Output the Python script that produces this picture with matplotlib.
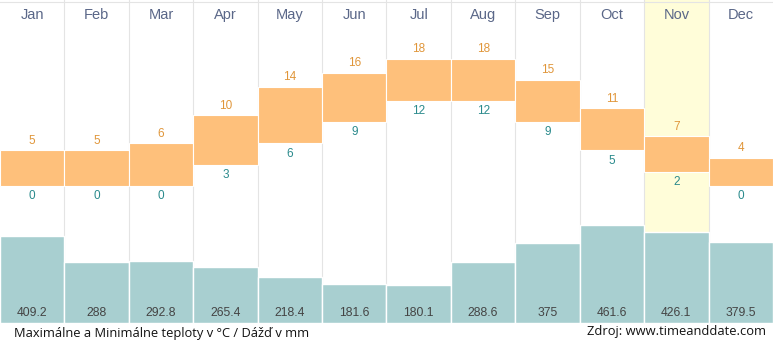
import matplotlib
matplotlib.use("Agg")
import matplotlib.pyplot as plt
import numpy as np

months = ["Jan", "Feb", "Mar", "Apr", "May", "Jun", "Jul", "Aug", "Sep", "Oct", "Nov", "Dec"]
tmax = [5, 5, 6, 10, 14, 16, 18, 18, 15, 11, 7, 4]
tmin = [0, 0, 0, 3, 6, 9, 12, 12, 9, 5, 2, 0]
rain = [409.2, 288, 292.8, 265.4, 218.4, 181.6, 180.1, 288.6, 375, 461.6, 426.1, 379.5]
highlight = "Nov"

W, H = 773, 342
bottom_px = 323          # baseline of the rain bars, from top
zero_px = 185.8          # 0 degC, from top
px_deg = 7.07
px_mm = 0.2125

fig = plt.figure(figsize=(W / 100, H / 100), dpi=100)
ax = fig.add_axes([0, (H - bottom_px) / H, 1, bottom_px / H])
ax2 = ax.twinx()
ax.set_zorder(2)
ax.patch.set_visible(False)

x = np.arange(len(months))
ax.set_xlim(0, 12)
ax.set_ylim(-(bottom_px - zero_px) / px_deg, zero_px / px_deg)
ax2.set_ylim(0, bottom_px / px_mm)

# rain bars + highlighted month background
rtop = bottom_px / px_mm
for i, m in enumerate(months):
    if m == highlight:
        ax2.bar(i + 0.5, rtop - rain[i], bottom=rain[i], width=1, color="#fffdd9",
                edgecolor="none", zorder=0)
ax2.bar(x + 0.5, rain, width=1, color="#a8cfd0", edgecolor="white", linewidth=1, zorder=2)

# column separators
for b in range(1, 12):
    ax2.axvline(b, color="#e4e4e4", lw=0.8, zorder=1)
ax2.axhline(rtop * 0.995, color="#e4e4e4", lw=0.8, zorder=1)

# temperature bars
ax.bar(x + 0.5, np.array(tmax) - np.array(tmin), bottom=tmin, width=1,
       color="#fec07b", edgecolor="white", linewidth=0.8, zorder=3)

fnt = "Liberation Sans"
for i in range(12):
    ax.annotate(str(tmax[i]), (i + 0.5, tmax[i]), xytext=(0, 2.5), textcoords="offset points",
                ha="center", va="bottom", fontsize=8.5, color="#e0963a", family=fnt)
    ax.annotate(str(tmin[i]), (i + 0.5, tmin[i]), xytext=(0, -3), textcoords="offset points",
                ha="center", va="top", fontsize=8.5, color="#2a8a8c", family=fnt)
    ax2.annotate(f"{rain[i]:g}", (i + 0.5, 0), xytext=(0, 3), textcoords="offset points",
                 ha="center", va="bottom", fontsize=8.7, color="#444444", family=fnt)
    ax.text(i + 0.5, 1 - 15 / bottom_px, months[i], transform=ax.get_xaxis_transform(),
            ha="center", va="center", fontsize=10.5, color="#5a6788", family=fnt)

for a in (ax, ax2):
    a.axis("off")

fig.text(14 / W, 1 - 333 / H, "Maximálne a Minimálne teploty v °C / Dážď v mm",
         ha="left", va="center", fontsize=9.3, color="#111111", family="Open Sans")
fig.text(766 / W, 1 - 331 / H, "Zdroj: www.timeanddate.com",
         ha="right", va="center", fontsize=9.3, color="#111111", family="Open Sans")

fig.savefig("out.png", dpi=100, facecolor="white")
